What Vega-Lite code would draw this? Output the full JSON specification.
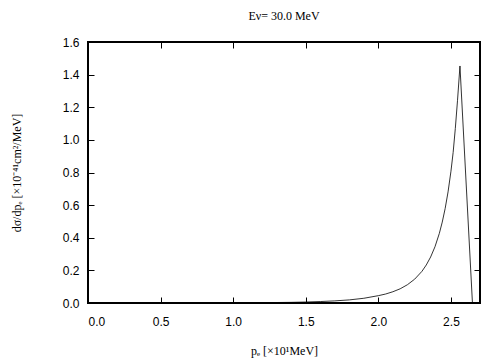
{
  "$schema": "https://vega.github.io/schema/vega-lite/v6.json",
  "width": 392,
  "height": 261,
  "autosize": {"type": "none"},
  "padding": {"left": 88, "top": 42, "right": 24, "bottom": 57},
  "background": "white",
  "title": {"text": "Eν= 30.0 MeV", "font": "Liberation Serif", "fontSize": 12, "fontWeight": "normal", "color": "black", "offset": 13, "anchor": "middle"},
  "config": {
    "view": {"stroke": "black", "strokeWidth": 2},
    "axis": {"grid": false, "domain": false, "tickColor": "black", "tickSize": -6, "tickWidth": 1, "labelFont": "Liberation Sans", "labelFontSize": 12, "labelColor": "black", "titleFont": "Liberation Serif", "titleFontSize": 12, "titleFontWeight": "normal", "titleColor": "black"}
  },
  "data": {"values": [
    {"p": 0.0, "v": 0.0},
    {"p": 0.5, "v": 0.0003},
    {"p": 1.0, "v": 0.001},
    {"p": 1.2, "v": 0.002},
    {"p": 1.4, "v": 0.004},
    {"p": 1.5, "v": 0.006},
    {"p": 1.6, "v": 0.009},
    {"p": 1.7, "v": 0.013},
    {"p": 1.8, "v": 0.019},
    {"p": 1.9, "v": 0.029},
    {"p": 2.0, "v": 0.045},
    {"p": 2.05, "v": 0.055},
    {"p": 2.1, "v": 0.069},
    {"p": 2.15, "v": 0.087},
    {"p": 2.2, "v": 0.112},
    {"p": 2.25, "v": 0.146},
    {"p": 2.3, "v": 0.194},
    {"p": 2.33, "v": 0.233},
    {"p": 2.36, "v": 0.282},
    {"p": 2.39, "v": 0.345},
    {"p": 2.42, "v": 0.427},
    {"p": 2.44, "v": 0.496},
    {"p": 2.46, "v": 0.579},
    {"p": 2.48, "v": 0.681},
    {"p": 2.5, "v": 0.808},
    {"p": 2.515, "v": 0.923},
    {"p": 2.53, "v": 1.07},
    {"p": 2.545, "v": 1.24},
    {"p": 2.562, "v": 1.453},
    {"p": 2.648, "v": 0.0}
  ]},
  "layer": [
    {
      "mark": {"type": "line", "color": "black", "strokeWidth": 0.8, "clip": true},
      "encoding": {
        "x": {"field": "p", "type": "quantitative", "scale": {"domain": [0, 2.7], "nice": false, "zero": false},
              "axis": {"orient": "bottom", "values": [0, 0.5, 1, 1.5, 2, 2.5], "format": ".1f", "labelPadding": 19, "title": "pₑ [×10¹MeV]", "titlePadding": 18}},
        "y": {"field": "v", "type": "quantitative", "scale": {"domain": [0, 1.6], "nice": false},
              "axis": {"orient": "left", "values": [0, 0.2, 0.4, 0.6, 0.8, 1.0, 1.2, 1.4, 1.6], "format": ".1f", "labelPadding": 15, "title": "dσ/dpₑ [×10⁻⁴¹cm²/MeV]", "titlePadding": 39}}
      }
    },
    {
      "mark": {"type": "line", "opacity": 0},
      "encoding": {
        "x": {"field": "p", "type": "quantitative", "scale": {"domain": [0, 2.7], "nice": false, "zero": false},
              "axis": {"orient": "top", "values": [0, 0.5, 1, 1.5, 2, 2.5], "labels": false, "title": null}},
        "y": {"field": "v", "type": "quantitative", "scale": {"domain": [0, 1.6], "nice": false},
              "axis": {"orient": "right", "values": [0, 0.2, 0.4, 0.6, 0.8, 1.0, 1.2, 1.4, 1.6], "labels": false, "title": null}}
      }
    }
  ],
  "resolve": {"axis": {"x": "independent", "y": "independent"}}
}
